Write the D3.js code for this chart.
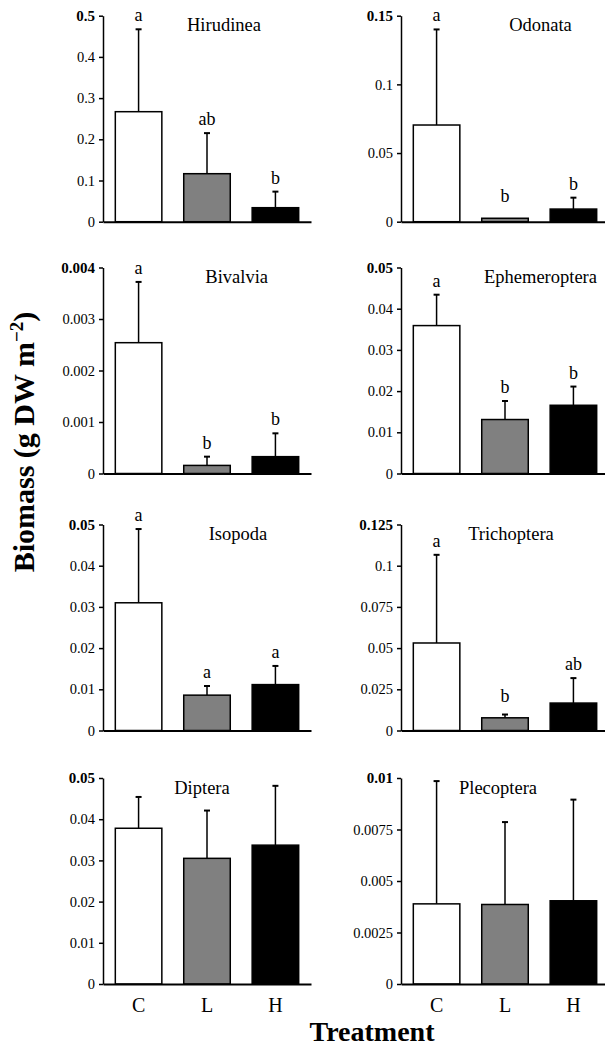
<!DOCTYPE html>
<html>
<head>
<meta charset="utf-8">
<script src="https://cdn.jsdelivr.net/npm/d3@7"></script>
<style>
  html, body { margin: 0; padding: 0; background: #fff; }
  svg { display: block; }
  text { font-family: "Liberation Serif", "Times New Roman", serif; fill: #000; }
</style>
</head>
<body>
<script>
// ---------------- data ----------------
const taxa = ["Hirudinea", "Odonata", "Bivalvia", "Ephemeroptera", "Isopoda", "Trichoptera", "Diptera", "Plecoptera"];
const treatments = ["C", "L", "H"];

const meanC = [0.267, 0.0704, 0.00254, 0.0359, 0.031, 0.0531, 0.0378, 0.00389];
const meanL = [0.1165, 0.0025, 0.000157, 0.0131, 0.00858, 0.0077, 0.0305, 0.00386];
const meanH = [0.034, 0.0092, 0.000327, 0.01656, 0.01114, 0.01665, 0.0337, 0.00404];

const seC = [0.200, 0.0696, 0.00118, 0.0075, 0.0179, 0.0535, 0.0076, 0.00596];
const seL = [0.0985, 0, 0.00017, 0.0045, 0.00222, 0.002, 0.0116, 0.004];
const seH = [0.039, 0.0083, 0.000453, 0.00454, 0.00453, 0.01515, 0.0144, 0.00491];

const lettersC = ["a", "a", "a", "a", "a", "a", "", ""];
const lettersL = ["ab", "b", "b", "b", "a", "b", "", ""];
const lettersH = ["b", "b", "b", "b", "a", "ab", "", ""];

const tickLabels = [
  ["0", "0.1", "0.2", "0.3", "0.4", "0.5"],
  ["0", "0.05", "0.1", "0.15"],
  ["0", "0.001", "0.002", "0.003", "0.004"],
  ["0", "0.01", "0.02", "0.03", "0.04", "0.05"],
  ["0", "0.01", "0.02", "0.03", "0.04", "0.05"],
  ["0", "0.025", "0.05", "0.075", "0.1", "0.125"],
  ["0", "0.01", "0.02", "0.03", "0.04", "0.05"],
  ["0", "0.0025", "0.005", "0.0075", "0.01"]
];

// ---------------- layout ----------------
const W = 605, H = 1048;
const colX = [103, 401];
const rowTop = [15.7, 267.5, 524.5, 778];
const panelH = 206;
const panelW = 208;
const titleX = [224, 540.5, 236.7, 540.5, 238, 511, 202, 498];
const fills = ["#ffffff", "#808080", "#000000"];
const serif = '"Liberation Serif", "Times New Roman", serif';

const svg = d3.select("body").append("svg").attr("width", W).attr("height", H);

taxa.forEach((name, i) => {
  const col = i % 2, row = Math.floor(i / 2);
  const ax = colX[col], top = rowTop[row];
  const ticks = tickLabels[i].map(Number);
  const yMax = ticks[ticks.length - 1];

  const y = d3.scaleLinear().domain([0, yMax]).range([top + panelH, top]);
  const x = d3.scaleBand().domain(treatments).range([ax, ax + panelW])
    .paddingInner(0.32).paddingOuter(0.18);

  const g = svg.append("g");

  const rows = [
    { t: "C", m: meanC[i], s: seC[i], l: lettersC[i], f: fills[0] },
    { t: "L", m: meanL[i], s: seL[i], l: lettersL[i], f: fills[1] },
    { t: "H", m: meanH[i], s: seH[i], l: lettersH[i], f: fills[2] }
  ];

  // error bars (upper only)
  rows.forEach(d => {
    const cx = x(d.t) + x.bandwidth() / 2;
    if (d.s > 0) {
      g.append("line")
        .attr("x1", cx).attr("x2", cx)
        .attr("y1", y(d.m)).attr("y2", y(d.m + d.s))
        .attr("stroke", "#000").attr("stroke-width", 1.5);
      g.append("line")
        .attr("x1", cx - 3).attr("x2", cx + 3)
        .attr("y1", y(d.m + d.s)).attr("y2", y(d.m + d.s))
        .attr("stroke", "#000").attr("stroke-width", 2);
    }
  });

  // bars
  g.selectAll("rect.bar").data(rows).enter().append("rect")
    .attr("class", "bar")
    .attr("x", d => x(d.t))
    .attr("width", x.bandwidth())
    .attr("y", d => y(d.m))
    .attr("height", d => y(0) - y(d.m))
    .attr("fill", d => d.f)
    .attr("stroke", "#000")
    .attr("stroke-width", 1.5);

  // significance letters
  g.selectAll("text.sig").data(rows.filter(d => d.l)).enter().append("text")
    .attr("class", "sig")
    .attr("x", d => x(d.t) + x.bandwidth() / 2)
    .attr("y", d => Math.min(y(d.m + d.s), y(d.m) - 8) - 8)
    .attr("text-anchor", "middle")
    .style("font-size", "18px")
    .text(d => d.l);

  // y axis
  const yAxis = d3.axisLeft(y).tickValues(ticks).tickSize(4).tickSizeOuter(0).tickPadding(4)
    .tickFormat((d, k) => tickLabels[i][k]);
  const ya = svg.append("g").attr("transform", `translate(${ax},0)`).call(yAxis)
    .attr("font-family", null).attr("font-size", null);
  ya.select(".domain").attr("stroke", "#000").attr("stroke-width", 1.5);
  ya.selectAll(".tick line").attr("stroke", "#000").attr("stroke-width", 1.5);
  ya.selectAll(".tick text")
    .style("font-family", serif)
    .style("font-size", "14.5px")
    .attr("fill", "#000");
  ya.selectAll(".tick").filter((d, k) => k === ticks.length - 1).select("text")
    .style("font-weight", "bold").style("font-size", "15px");

  // x axis
  const xAxis = d3.axisBottom(x).tickSize(0).tickSizeOuter(0).tickPadding(14)
    .tickFormat(row === 3 ? (d => d) : (() => ""));
  const xa = svg.append("g").attr("transform", `translate(0,${y(0)})`).call(xAxis)
    .attr("font-family", null).attr("font-size", null);
  xa.select(".domain").attr("stroke", "#000").attr("stroke-width", 2);
  xa.selectAll(".tick text")
    .style("font-family", serif)
    .style("font-size", "20px")
    .attr("fill", "#000");

  // panel title
  svg.append("text")
    .attr("x", titleX[i]).attr("y", top + 15.5)
    .attr("text-anchor", "middle")
    .style("font-size", "18.5px")
    .text(name);
});

// y-axis title
const yt = svg.append("text")
  .attr("transform", "translate(34,442) rotate(-90)")
  .attr("text-anchor", "middle")
  .style("font-size", "30px")
  .style("font-weight", "bold");
yt.append("tspan").text("Biomass (g DW m");
yt.append("tspan").attr("dy", -11).style("font-size", "19px").text("\u22122");
yt.append("tspan").attr("dy", 11).text(")");

// x-axis title
svg.append("text")
  .attr("x", 372).attr("y", 1041)
  .attr("text-anchor", "middle")
  .style("font-size", "28px")
  .style("font-weight", "bold")
  .text("Treatment");
</script>
</body>
</html>
